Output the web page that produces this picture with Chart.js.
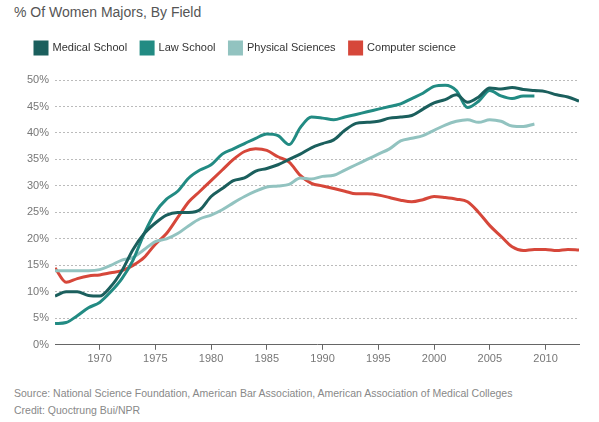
<!DOCTYPE html>
<html>
<head>
<meta charset="utf-8">
<script src="https://cdn.jsdelivr.net/npm/chart.js@4/dist/chart.umd.min.js"></script>
<style>
  body { margin: 0; background: #fff; font-family: Arial, "Liberation Sans", sans-serif; }
  #title { position: absolute; left: 14px; top: 4px; font-size: 14px; color: #555; }
  #wrap { position: absolute; left: 0; top: 28px; width: 599px; height: 341px; }
  #foot { position: absolute; left: 14px; top: 385px; font-size: 10.5px; color: #888; line-height: 17px; }
</style>
</head>
<body>
<div id="title">% Of Women Majors, By Field</div>
<div id="wrap"><canvas id="c"></canvas></div>
<div id="foot">Source: National Science Foundation, American Bar Association, American Association of Medical Colleges<br>Credit: Quoctrung Bui/NPR</div>
<script>
const years = [];
for (let y = 1966; y <= 2013; y++) years.push(y);
const xTicks = [1970, 1975, 1980, 1985, 1990, 1995, 2000, 2005, 2010];

const medical = [9.2,10,10,9.3,9.2,11,14,18,21,23,24.5,25,25,25.5,28,29.5,31,31.5,32.8,33.3,34,35,36,37.2,38,38.7,40.5,41.8,42,42.2,42.8,43,43.3,44.5,45.7,46.3,47.2,45.8,46.8,48.5,48.3,48.6,48.2,48,47.8,47.2,46.8,46];
const law = [4,4.2,5.5,7,8,10,12.5,16,21,25,27.5,29,31.5,33,34,36,37,38,39,39.8,39.5,37.8,41,43,42.8,42.5,43,43.5,44,44.5,45,45.5,46.5,47.5,48.8,49,48,44.8,46,48,47,46.5,47,47];
const physical = [14,14,14,14,14.2,15,16,16.5,18,19.5,20,21,22.5,23.8,24.5,25.5,26.8,28,29,29.8,30,30.3,31.5,31.3,31.8,32,33,34,35,36,37,38.5,39,39.5,40.5,41.5,42.2,42.5,42,42.5,42.2,41.3,41.2,41.7];
const computer = [14.5,11.8,12.5,13,13.2,13.6,14,15,16.5,19,21,24,27,29,31,33,35,36.5,37,36.7,35.5,34.5,32,30.5,30,29.5,29,28.5,28.5,28.3,27.8,27.3,27,27.4,28,27.8,27.5,27,25,22.5,20.5,18.5,17.8,18,18,17.8,18,17.9];

function pts(arr) { return arr.map((v, i) => ({ x: years[i], y: v })); }
function ds(label, arr, color) {
  return { label, data: pts(arr), borderColor: color, backgroundColor: color,
    borderWidth: 3, pointRadius: 0, tension: 0.4, cubicInterpolationMode: 'monotone' };
}

// extra space under the legend
const legendGap = {
  id: 'legendGap',
  beforeInit(chart) {
    const fit = chart.legend.fit;
    chart.legend.fit = function () { fit.bind(chart.legend)(); this.height += 16; };
  }
};

new Chart(document.getElementById('c'), {
  type: 'line',
  data: { datasets: [
    ds('Medical School', medical, '#1b5f5d'),
    ds('Law School', law, '#228b83'),
    ds('Physical Sciences', physical, '#92c3c0'),
    ds('Computer science', computer, '#d6473a')
  ] },
  plugins: [legendGap],
  options: {
    responsive: true, maintainAspectRatio: false, animation: false,
    layout: { padding: { left: 21, right: 20, top: 0 } },
    plugins: {
      legend: { position: 'top', align: 'start',
        labels: { boxWidth: 12, boxHeight: 12, color: '#333', font: { size: 11, family: 'Arial' }, padding: 14 } },
      tooltip: { enabled: false }
    },
    scales: {
      x: { type: 'linear', min: 1966, max: 2013,
        afterBuildTicks: s => { s.ticks = xTicks.map(v => ({ value: v })); },
        grid: { display: true, drawOnChartArea: false, drawTicks: true, tickLength: 5, color: '#666' },
        border: { color: '#666' },
        ticks: { color: '#777', font: { size: 11, family: 'Arial' }, callback: v => String(v), maxRotation: 0 } },
      y: { min: 0, max: 50,
        ticks: { stepSize: 5, color: '#777', font: { size: 11, family: 'Arial' }, callback: v => v + '%', padding: 6 },
        grid: { color: '#bbb', drawTicks: false },
        border: { display: false, dash: [2, 2] } }
    }
  }
});
</script>
</body>
</html>
